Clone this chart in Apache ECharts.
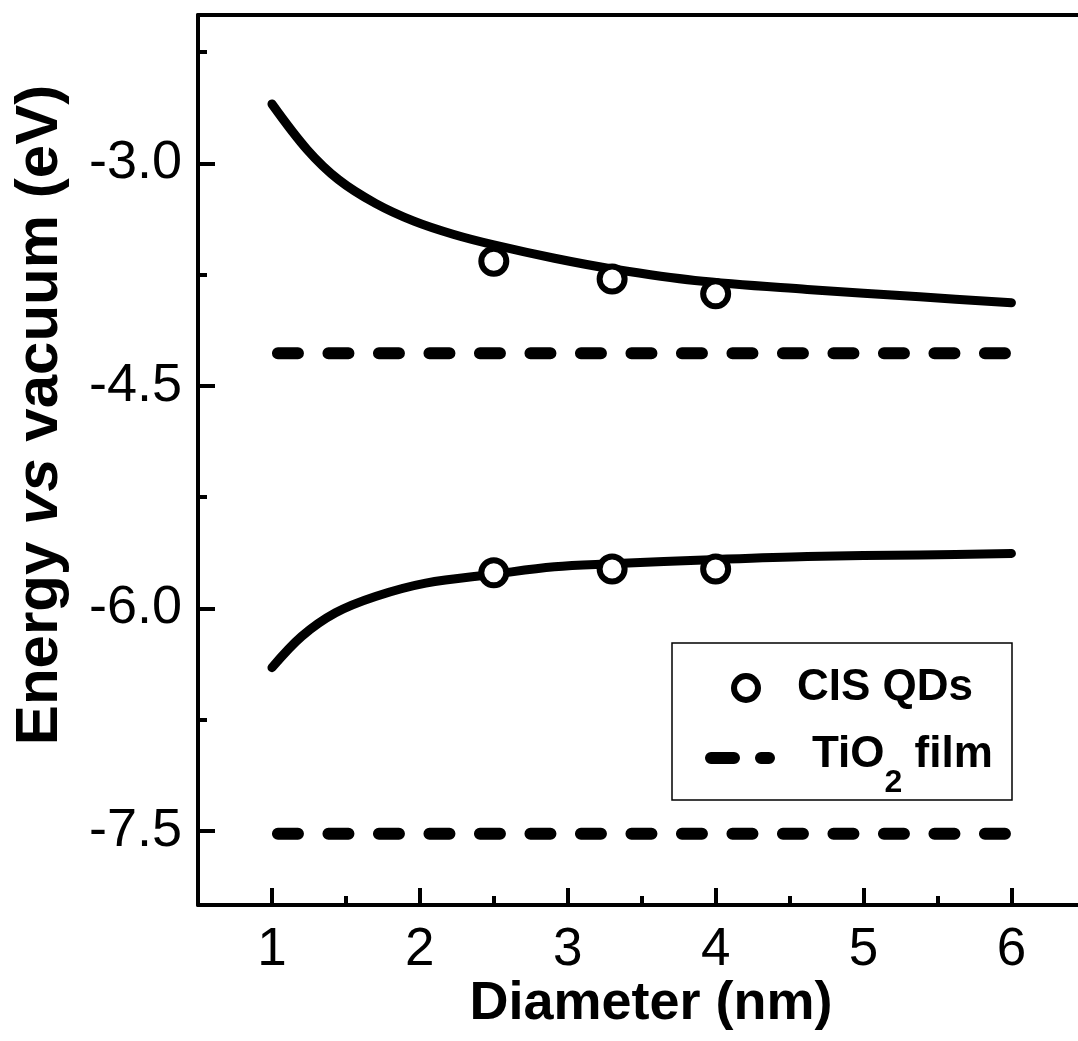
<!DOCTYPE html>
<html>
<head>
<meta charset="utf-8">
<script src="https://cdn.jsdelivr.net/npm/echarts@6/dist/echarts.min.js"></script>
<style>
  html, body { margin: 0; padding: 0; background: #fff; }
  #chart { width: 1078px; height: 1041px; }
</style>
</head>
<body>
<div id="chart"></div>
<script>
// Axis ticks
const xMajorTicks = [1, 2, 3, 4, 5, 6];
const xMinorTicks = [1.5, 2.5, 3.5, 4.5, 5.5];
const yMajorTicks = [-7.5, -6.0, -4.5, -3.0];
const yMinorTicks = [-6.75, -5.25, -3.75, -2.25];

// Fitted conduction-band curve (diameter in nm, energy in eV)
const cbFitDiameter = [1.0, 1.24, 1.45, 1.7, 1.96, 2.23, 2.5, 2.91, 3.29, 3.86, 4.62, 5.38, 6.0];
const cbFitEnergy   = [-2.60, -2.91, -3.11, -3.27, -3.39, -3.48, -3.55, -3.64, -3.71, -3.79, -3.85, -3.90, -3.94];

// Fitted valence-band curve
const vbFitDiameter = [1.0, 1.2, 1.43, 1.7, 2.04, 2.5, 2.91, 3.29, 4.01, 4.62, 5.38, 6.0];
const vbFitEnergy   = [-6.40, -6.19, -6.03, -5.92, -5.83, -5.77, -5.72, -5.70, -5.67, -5.65, -5.64, -5.63];

// CIS quantum dots: measured band edges
const qdDiameter = [2.5, 3.3, 4.0];
const qdCB = [-3.66, -3.78, -3.88];
const qdVB = [-5.76, -5.735, -5.735];

// TiO2 film band edges over the plotted diameter span
const tio2Span = [1, 6];
const tio2CB = -4.28;
const tio2VB = -7.52;

const FONT = '"Liberation Sans", Arial, sans-serif';
const pairs = (xs, ys) => xs.map((x, i) => [x, ys[i]]);
const flat = (xs, v) => xs.map(x => [x, v]);

const axisLineStyle = { color: '#000', width: 4 };
const tickLineStyle = { color: '#000', width: 4 };

const chart = echarts.init(document.getElementById('chart'), null, { renderer: 'canvas' });

const fitLine = { color: '#000', width: 9, cap: 'round', join: 'round' };
const dashLine = { color: '#000', width: 12, type: [20, 30.5], dashOffset: -6, cap: 'round' };
const ring = { color: '#fff', borderColor: '#000', borderWidth: 6, opacity: 1 };

chart.setOption({
  animation: false,
  backgroundColor: '#fff',
  grid: { left: 198, right: 0, top: 15, bottom: 136, containLabel: false, outerBoundsMode: 'none' },
  xAxis: [
    {
      type: 'value', min: 0.5, max: 6.45, position: 'bottom',
      axisLine: { show: true, lineStyle: axisLineStyle },
      axisTick: { show: true, inside: true, length: 17, customValues: xMajorTicks, lineStyle: tickLineStyle },
      axisLabel: { customValues: xMajorTicks, fontSize: 53, fontFamily: FONT, color: '#000', margin: 19 },
      splitLine: { show: false },
      name: 'Diameter (nm)', nameLocation: 'middle', nameGap: 72, nameMoveOverlap: false,
      nameTextStyle: { fontSize: 54, fontWeight: 'bold', fontFamily: FONT, color: '#000', padding: [0, 0, 0, 26] }
    },
    {
      type: 'value', min: 0.5, max: 6.45, position: 'bottom',
      axisLine: { show: false },
      axisTick: { show: true, inside: true, length: 9, customValues: xMinorTicks, lineStyle: tickLineStyle },
      axisLabel: { show: false }, splitLine: { show: false }
    },
    {
      type: 'value', min: 0.5, max: 6.45, position: 'top',
      axisLine: { show: true, lineStyle: axisLineStyle },
      axisTick: { show: false }, axisLabel: { show: false }, splitLine: { show: false }
    }
  ],
  yAxis: [
    {
      type: 'value', min: -8, max: -2, position: 'left',
      axisLine: { show: true, lineStyle: axisLineStyle },
      axisTick: { show: true, inside: true, length: 17, customValues: yMajorTicks, lineStyle: tickLineStyle },
      axisLabel: {
        customValues: yMajorTicks, fontSize: 54, fontFamily: FONT, color: '#000', margin: 16,
        formatter: v => v.toFixed(1)
      },
      splitLine: { show: false },
      name: 'Energy {i|vs} vacuum (eV)', nameLocation: 'middle', nameRotate: 90, nameGap: 128,
      nameMoveOverlap: false,
      nameTextStyle: {
        fontSize: 60, fontWeight: 'bold', fontFamily: FONT, color: '#000', padding: [0, 0, 0, 90],
        rich: { i: { fontSize: 60, fontWeight: 'bold', fontStyle: 'italic', fontFamily: FONT, color: '#000' } }
      }
    },
    {
      type: 'value', min: -8, max: -2, position: 'left',
      axisLine: { show: false },
      axisTick: { show: true, inside: true, length: 9, customValues: yMinorTicks, lineStyle: tickLineStyle },
      axisLabel: { show: false }, splitLine: { show: false }
    }
  ],
  series: [
    { name: 'CB fit', type: 'line', data: pairs(cbFitDiameter, cbFitEnergy), smooth: 0.35,
      showSymbol: false, lineStyle: fitLine, z: 2, silent: true },
    { name: 'VB fit', type: 'line', data: pairs(vbFitDiameter, vbFitEnergy), smooth: 0.35,
      showSymbol: false, lineStyle: fitLine, z: 2, silent: true },
    { name: 'TiO2 film', type: 'line', data: flat(tio2Span, tio2CB),
      showSymbol: false, lineStyle: dashLine, z: 2, silent: true },
    { name: 'TiO2 film', type: 'line', data: flat(tio2Span, tio2VB),
      showSymbol: false, lineStyle: dashLine, z: 2, silent: true },
    { name: 'CIS QDs', type: 'scatter', data: pairs(qdDiameter, qdCB),
      symbol: 'circle', symbolSize: 25, itemStyle: ring, z: 5, silent: true },
    { name: 'CIS QDs', type: 'scatter', data: pairs(qdDiameter, qdVB),
      symbol: 'circle', symbolSize: 25, itemStyle: ring, z: 5, silent: true }
  ],
  graphic: [
    { type: 'rect', shape: { x: 672, y: 643, width: 340, height: 157 },
      style: { fill: '#fff', stroke: '#000', lineWidth: 1.5 }, z: 10 },
    { type: 'circle', shape: { cx: 746, cy: 688, r: 12 },
      style: { fill: '#fff', stroke: '#000', lineWidth: 6 }, z: 11 },
    { type: 'text', x: 797, y: 688, z: 11,
      style: { text: 'CIS QDs', font: 'bold 44px ' + FONT, fill: '#000', verticalAlign: 'middle' } },
    { type: 'line', shape: { x1: 711, y1: 758, x2: 769, y2: 758 },
      style: { stroke: '#000', lineWidth: 12, lineCap: 'round', lineDash: [23, 27] }, z: 11 },
    { type: 'text', x: 812, y: 733, z: 11,
      style: {
        text: '{m|TiO}{sub|2}{m| film}', fill: '#000', verticalAlign: 'top',
        rich: {
          m: { fontSize: 44, fontWeight: 'bold', fontFamily: FONT, lineHeight: 50, verticalAlign: 'top', fill: '#000' },
          sub: { fontSize: 32, fontWeight: 'bold', fontFamily: FONT, lineHeight: 32, padding: [34, 0, 0, 0], verticalAlign: 'top', fill: '#000' }
        }
      } }
  ]
});
</script>
</body>
</html>
